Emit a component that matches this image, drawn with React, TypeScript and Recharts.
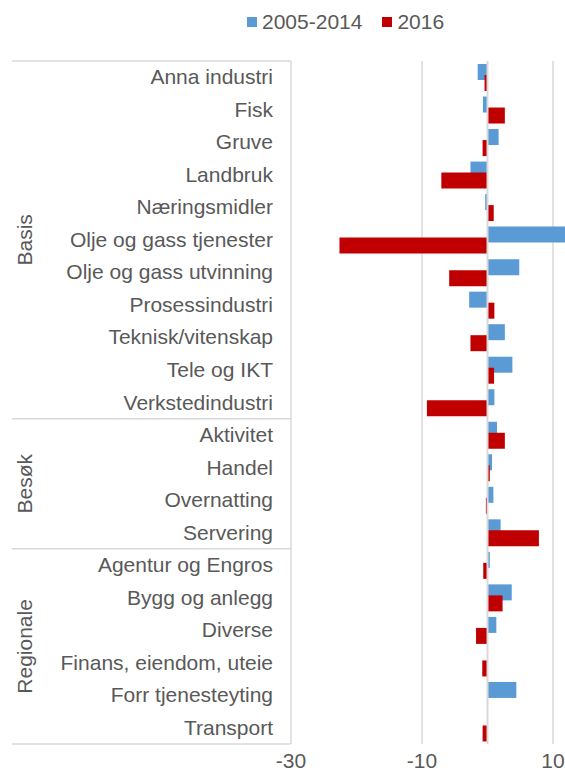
import React from 'react';
import { BarChart, Bar, XAxis, YAxis, CartesianGrid, ReferenceLine, Legend } from 'recharts';

// categories top to bottom, grouped
const categories = [
  'Anna industri', 'Fisk', 'Gruve', 'Landbruk', 'Næringsmidler', 'Olje og gass tjenester',
  'Olje og gass utvinning', 'Prosessindustri', 'Teknisk/vitenskap', 'Tele og IKT', 'Verkstedindustri',
  'Aktivitet', 'Handel', 'Overnatting', 'Servering',
  'Agentur og Engros', 'Bygg og anlegg', 'Diverse', 'Finans, eiendom, uteie', 'Forr tjenesteyting', 'Transport',
];
const groupNames = ['Basis', 'Besøk', 'Regionale'];
const groupSizes = [11, 4, 6];

const series2005 = [-1.5, -0.7, 1.7, -2.6, -0.35, 14, 4.85, -2.8, 2.65, 3.8, 1.05, 1.45, 0.7, 0.9, 2.0, 0.35, 3.7, 1.35, 0, 4.4, 0.05];
const series2016 = [-0.45, 2.65, -0.75, -7.05, 0.95, -22.6, -5.85, 1.05, -2.6, 1.0, -9.25, 2.65, 0.35, -0.25, 7.85, -0.65, 2.3, -1.75, -0.8, 0, -0.75];
const xTicks = [-30, -10, 10];

const data = categories.map((name, i) => ({ name, a: series2005[i], b: series2016[i] }));

const groupStarts = groupSizes.map((_, i) => groupSizes.slice(0, i).reduce((s, v) => s + v, 0));

const BLUE = '#5B9BD5';
const RED = '#C00000';
const TEXT = '#595959';
const GRID = '#D9D9D9';
const FONT = '"Liberation Sans", Arial, sans-serif';
const FS = 21;

const W = 684;
const H = 779;
const TOP = 61;
const XAXIS_H = 35;
const YAXIS_W = 291;
const BAND = (H - TOP - XAXIS_H) / categories.length;

function CategoryTick(props: any) {
  const { x, y, payload } = props;
  const idx = props.index ?? categories.indexOf(payload.value);
  const gi = groupStarts.indexOf(idx);
  const last = idx === categories.length - 1;
  return (
    <g>
      <text x={x} y={y} dy={7} textAnchor="end" fill={TEXT} fontSize={FS} fontFamily={FONT}>
        {payload.value}
      </text>
      {gi >= 0 && (
        <line x1={12} x2={YAXIS_W} y1={y - BAND / 2} y2={y - BAND / 2} stroke={GRID} strokeWidth={1.5} />
      )}
      {gi >= 0 && (
        <text
          transform={`translate(25 ${y - BAND / 2 + (groupSizes[gi] * BAND) / 2}) rotate(-90)`}
          dy={7}
          textAnchor="middle"
          fill={TEXT}
          fontSize={FS}
          fontFamily={FONT}
        >
          {groupNames[gi]}
        </text>
      )}
      {last && <line x1={12} x2={YAXIS_W} y1={y + BAND / 2} y2={y + BAND / 2} stroke={GRID} strokeWidth={1.5} />}
    </g>
  );
}

function ValueTick(props: any) {
  const { x, y, payload } = props;
  return (
    <text x={x} y={y} dy={16} textAnchor="middle" fill={TEXT} fontSize={FS} fontFamily={FONT}>
      {payload.value}
    </text>
  );
}

function LegendContent(props: any) {
  const { payload } = props;
  return (
    <div style={{ height: TOP, display: 'flex', alignItems: 'flex-start', paddingLeft: 247, paddingTop: 10, boxSizing: 'border-box', fontFamily: FONT, fontSize: FS, color: TEXT }}>
      {(payload || []).map((p: any) => (
        <div key={p.value} style={{ display: 'flex', alignItems: 'center', marginRight: 20, lineHeight: '24px' }}>
          <span style={{ width: 10, height: 10, background: p.color, marginRight: 5, display: 'inline-block' }} />
          <span>{p.value}</span>
        </div>
      ))}
    </div>
  );
}

export default function App() {
  return (
    <div style={{ position: 'absolute', left: 0, top: 0, width: 565, height: H, overflow: 'hidden', background: '#fff' }}>
      <BarChart width={W} height={H} data={data} layout="vertical" barSize={16} barGap={-5} margin={{ top: 0, right: 0, bottom: 0, left: 0 }}>
        <Legend verticalAlign="top" align="left" content={<LegendContent />} />
        <CartesianGrid horizontal={false} vertical stroke={GRID} strokeWidth={1.5} />
        <XAxis
          type="number"
          domain={[-30, 30]}
          ticks={xTicks}
          axisLine={false}
          tickLine={false}
          height={XAXIS_H}
          tick={<ValueTick />}
        />
        <YAxis
          type="category"
          dataKey="name"
          width={YAXIS_W}
          axisLine={false}
          tickLine={false}
          tickSize={0}
          tickMargin={18}
          interval={0}
          tick={<CategoryTick />}
        />
        <Bar dataKey="a" name="2005-2014" fill={BLUE} isAnimationActive={false} />
        <Bar dataKey="b" name="2016" fill={RED} isAnimationActive={false} />
        <ReferenceLine x={0} stroke={GRID} strokeWidth={2} />
      </BarChart>
    </div>
  );
}
